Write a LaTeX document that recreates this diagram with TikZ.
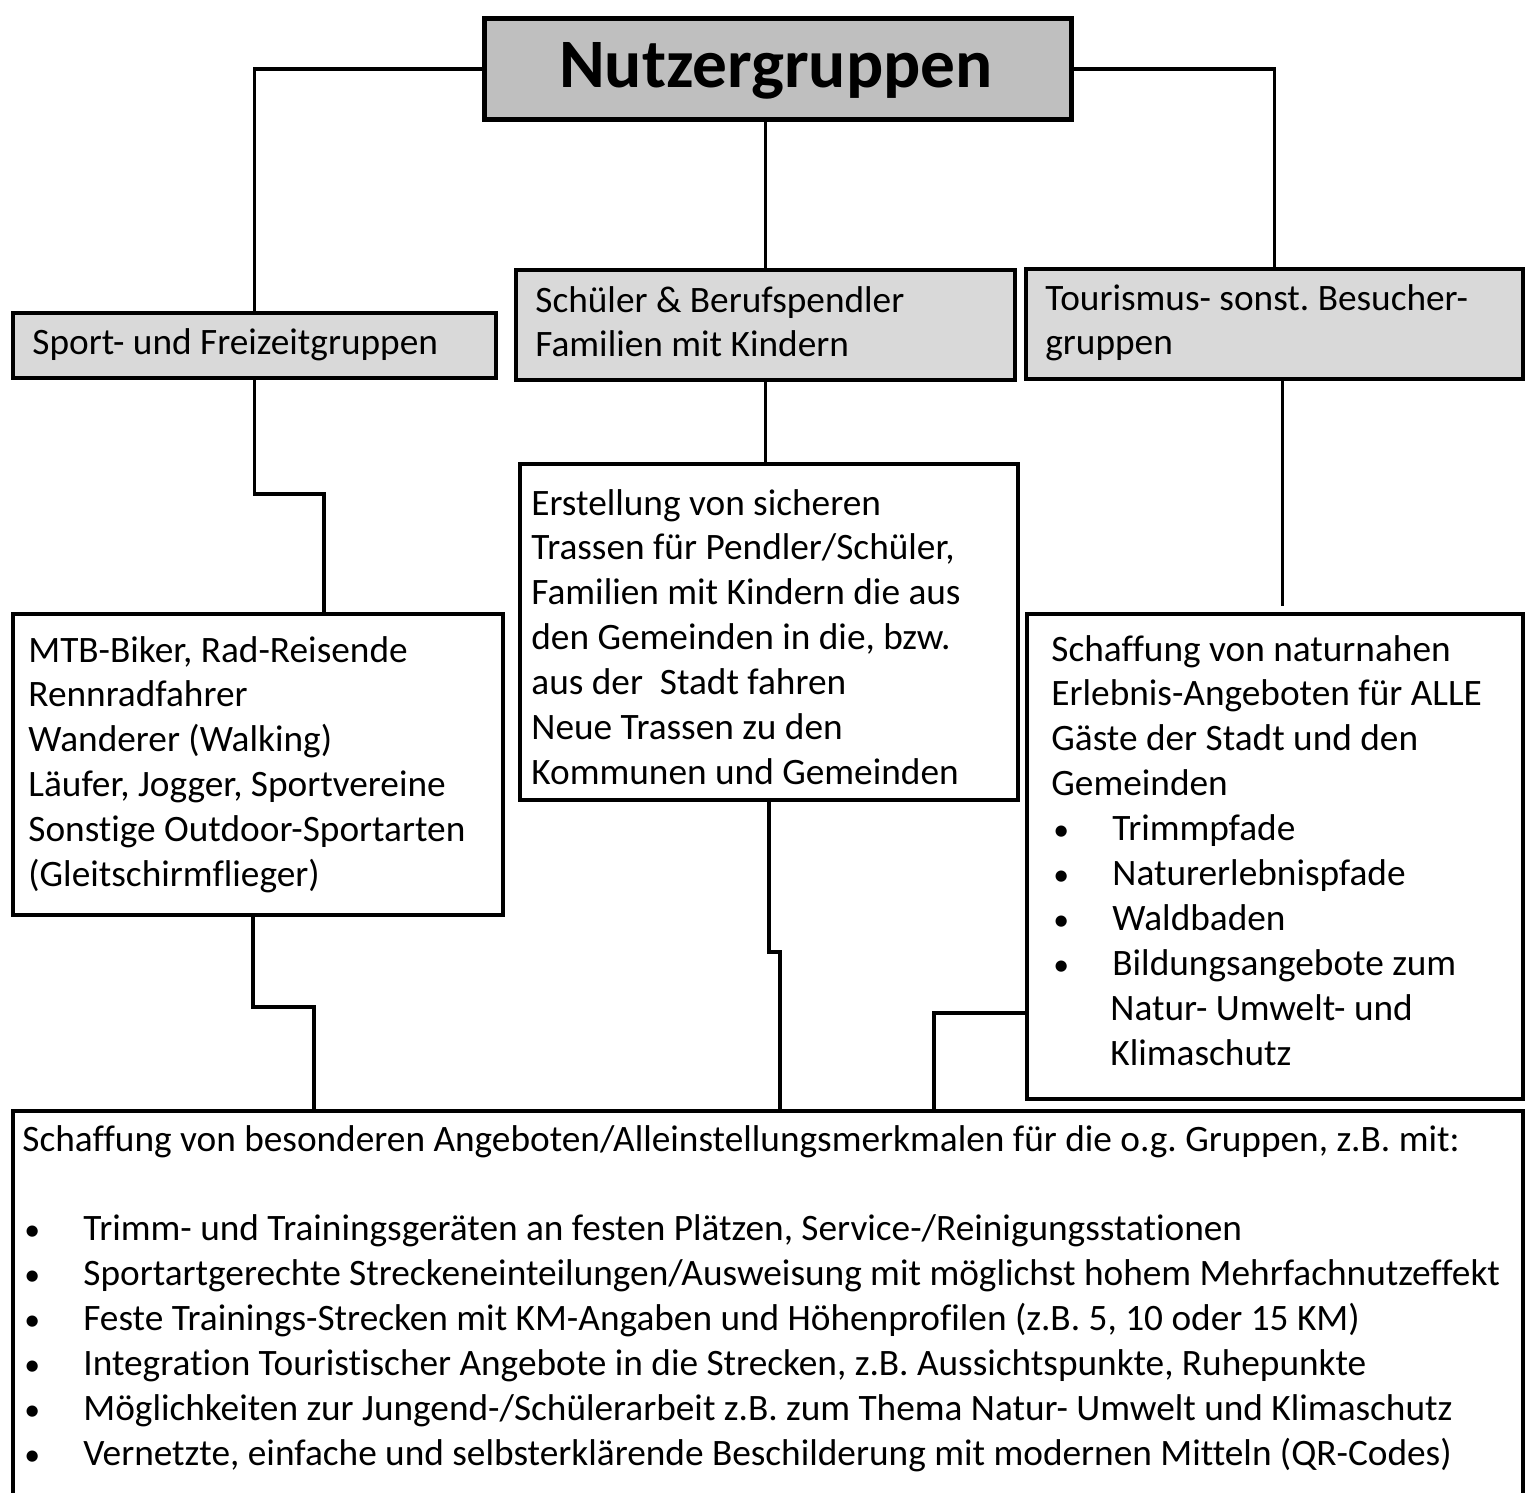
\documentclass[tikz,border=0pt]{standalone}
\usepackage{fontspec}
\setmainfont{Carlito}[Ligatures=NoCommon]
\frenchspacing
\newcommand\txtrows[1]{\begin{tabular}[t]{@{}l@{}}#1\end{tabular}}
\newcommand\bul[1]{\makebox[#1][l]{\hspace*{1pt}\scalebox{0.85}{\textbullet}}}
\definecolor{titlegray}{HTML}{BFBFBF}
\definecolor{boxgray}{HTML}{D9D9D9}
\tikzset{
  box/.style={draw, line width=2pt, inner sep=0pt, anchor=north west},
  conn/.style={line width=1.7pt},
  txt/.style={inner sep=0pt, anchor=base west, font=\fontsize{18.65}{22.45}\selectfont},
}
\begin{document}
\begin{tikzpicture}[x=0.5pt,y=-0.5pt]
\useasboundingbox (0,0) rectangle (1526,1493);
% boxes
\node[box, line width=2.5pt, fill=titlegray, minimum width=293.5pt, minimum height=50.5pt] (top) at (482,16) {};
\node[box, fill=boxgray, minimum width=241.5pt, minimum height=32.5pt] (sport) at (11,311) {};
\node[box, fill=boxgray, minimum width=249.5pt, minimum height=55pt] (schueler) at (514,268) {};
\node[box, fill=boxgray, minimum width=248.5pt, minimum height=55pt] (tour) at (1024,267) {};
\node[box, fill=white, minimum width=245pt, minimum height=150.5pt] (mtb) at (11,612) {};
\node[box, fill=white, minimum width=249pt, minimum height=168pt] (erst) at (518,462) {};
\node[box, fill=white, minimum width=248pt, minimum height=242.5pt] (schaff) at (1025,612) {};
\node[box, fill=white, minimum width=755pt, minimum height=205.5pt] (bottom) at (11,1109) {};
% connectors
\draw[conn] (top.west) -| (sport.north);
\draw[conn] (top.east) -| (tour.north);
\draw[conn] (schueler.north) -- (schueler.north |- top.south);
\coordinate (j1) at (324,494);
\draw[conn] (sport.south) |- (j1) -- (j1 |- mtb.north);
\draw[conn] (schueler.south) -- (schueler.south |- erst.north);
\draw[conn] ([xshift=4pt]tour.south) -- ([xshift=4pt,yshift=3pt]tour.south |- schaff.north);
\coordinate (j2) at (314,1007);
\draw[conn] ([xshift=-2.5pt]mtb.south) |- (j2) -- (j2 |- bottom.north);
\coordinate (j3) at (780,952);
\draw[conn] (erst.south) |- (j3) -- (j3 |- bottom.north);
\coordinate (j4) at (934,1013);
\draw[conn] (schaff.west |- j4) -- (j4) -- (j4 |- bottom.north);
% texts
\node[inner sep=0pt, anchor=base, font=\fontsize{34.7}{40}\selectfont\bfseries] (title) at (776,88) {Nutzergruppen};
\node[txt] (tsport) at (32,354) {\txtrows{Sport- und Freizeitgruppen}};
\node[txt] (tschueler) at (535,312) {\txtrows{Schüler \& Berufspendler\\Familien mit Kindern}};
\node[txt] (ttour) at (1045,310) {\txtrows{Tourismus- sonst. Besucher-\\gruppen}};
\node[txt] (tmtb) at (28,662) {\txtrows{MTB-Biker, Rad-Reisende\\Rennradfahrer\\Wanderer (Walking)\\Läufer, Jogger, Sportvereine\\Sonstige Outdoor-Sportarten\\(Gleitschirmflieger)}};
\node[txt] (terst) at (531,515) {\txtrows{Erstellung von sicheren\\Trassen für Pendler/Schüler,\\Familien mit Kindern die aus\\den Gemeinden in die, bzw.\\aus der \ Stadt fahren\\Neue Trassen zu den\\Kommunen und Gemeinden}};
\node[txt] (tschaff) at (1051,661) {\txtrows{Schaffung von naturnahen\\Erlebnis-Angeboten für ALLE\\Gäste der Stadt und den\\Gemeinden\\
\bul{30.5pt}Trimmpfade\\
\bul{30.5pt}Naturerlebnispfade\\
\bul{30.5pt}Waldbaden\\
\bul{30.5pt}Bildungsangebote zum\\
\hspace*{29.5pt}Natur- Umwelt- und\\
\hspace*{29.5pt}Klimaschutz}};
\node[txt] (tbottom) at (22,1151) {\txtrows{Schaffung von besonderen Angeboten/Alleinstellungsmerkmalen für die o.g. Gruppen, z.B. mit:\\ \\
\bul{30.5pt}Trimm- und Trainingsgeräten an festen Plätzen, Service-/Reinigungsstationen\\
\bul{30.5pt}Sportartgerechte Streckeneinteilungen/Ausweisung mit möglichst hohem Mehrfachnutzeffekt\\
\bul{30.5pt}Feste Trainings-Strecken mit KM-Angaben und Höhenprofilen (z.B. 5, 10 oder 15 KM)\\
\bul{30.5pt}Integration Touristischer Angebote in die Strecken, z.B. Aussichtspunkte, Ruhepunkte\\
\bul{30.5pt}Möglichkeiten zur Jungend-/Schülerarbeit z.B. zum Thema Natur- Umwelt und Klimaschutz\\
\bul{30.5pt}Vernetzte, einfache und selbsterklärende Beschilderung mit modernen Mitteln (QR-Codes)}};
\end{tikzpicture}
\end{document}
